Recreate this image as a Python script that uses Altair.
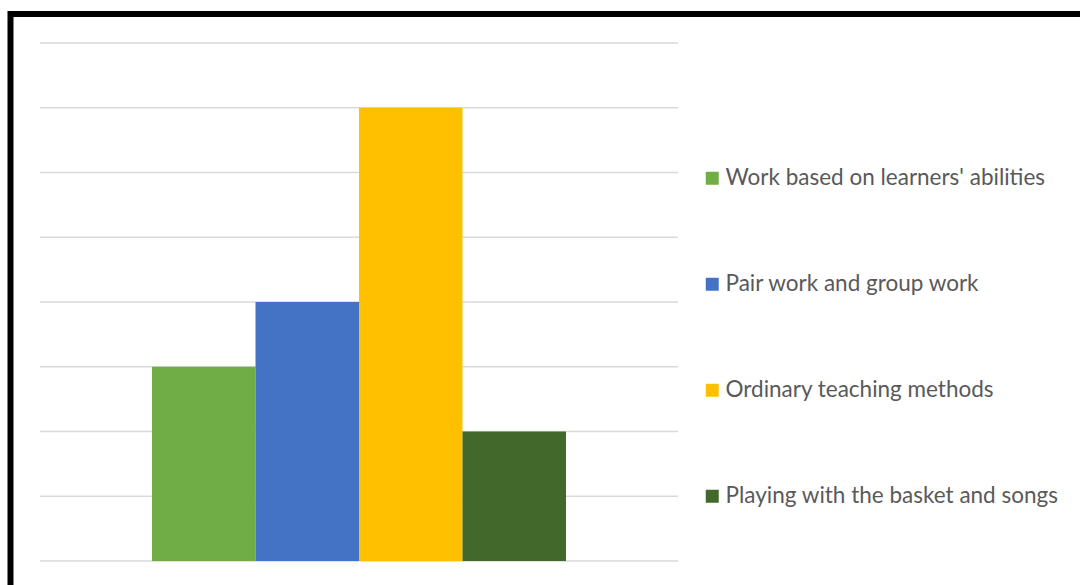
import altair as alt
import pandas as pd

categories = [
    "Work based on learners' abilities",
    "Pair work and group work",
    "Ordinary teaching methods",
    "Playing with the basket and songs",
]
values = [3, 4, 7, 2]
colors = ["#70AD47", "#4472C4", "#FFC000", "#43682B"]
y_ticks = [0, 1, 2, 3, 4, 5, 6, 7, 8]

df = pd.DataFrame({"method": categories, "value": values})
grid_df = pd.DataFrame({"tick": y_ticks})

yscale = alt.Scale(domain=[0, 8], nice=False)

grid = alt.Chart(grid_df).mark_rule(color="#d9d9d9", strokeWidth=1.5).encode(
    y=alt.Y("tick:Q", scale=yscale, axis=None),
    x=alt.value(0), x2=alt.value(638),
)

bars = alt.Chart(df).mark_bar().encode(
    x=alt.X("method:N", sort=categories, axis=None,
            scale=alt.Scale(paddingInner=0, paddingOuter=0, range=[112, 526])),
    y=alt.Y("value:Q", scale=yscale, axis=None),
    color=alt.Color("method:N", sort=categories,
                    scale=alt.Scale(domain=categories, range=colors),
                    legend=alt.Legend(title=None, orient="none", legendX=661, legendY=124,
                                      symbolType="square", symbolSize=169,
                                      symbolStrokeWidth=0, symbolOpacity=1,
                                      labelFont="Lato", labelFontSize=22.5,
                                      labelColor="#595959", labelOffset=2,
                                      rowPadding=83, labelLimit=400)),
)

frame = alt.Chart(alt.Data(values=[{}])).mark_rect(
    fill="transparent", stroke="black", strokeWidth=6
).encode(
    x=alt.value(-29.5), x2=alt.value(1100),
    y=alt.value(-29), y2=alt.value(620),
)

chart = alt.layer(grid, bars, frame).properties(
    width=638, height=518,
    padding={"left": 40, "top": 43, "right": 402, "bottom": 24},
    autosize=alt.AutoSizeParams(type="none"),
    background="white",
).configure_view(stroke=None)

chart.save("out.html", embed_options={"renderer": "svg", "actions": False})
